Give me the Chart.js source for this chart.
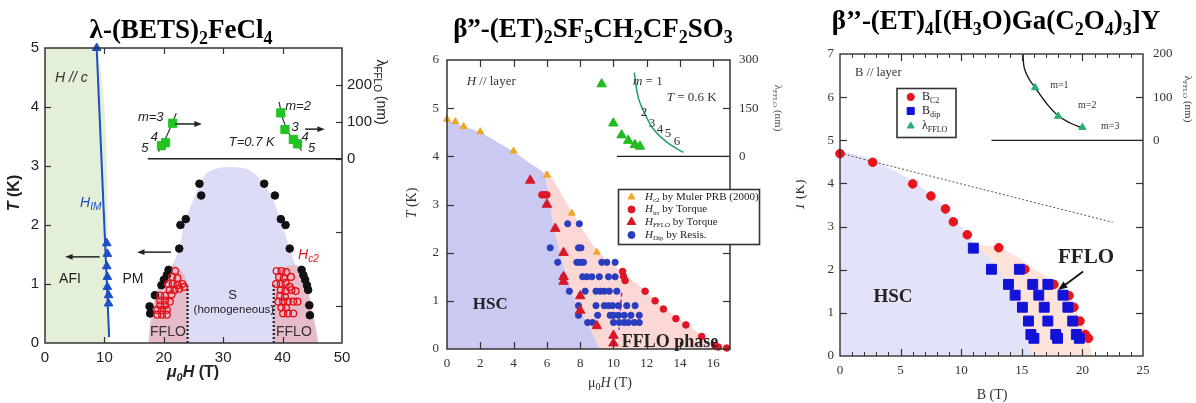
<!DOCTYPE html>
<html>
<head>
<meta charset="utf-8">
<script src="https://cdn.jsdelivr.net/npm/chart.js@4.4.0/dist/chart.umd.min.js"></script>
<style>
body { margin: 0; background: #fff; width: 1196px; height: 403px; overflow: hidden; position: relative; }
canvas { position: absolute; top: 0; }
#c1 { left: 0; }
#c2 { left: 400px; }
#c3 { left: 796px; }
</style>
</head>
<body>
<canvas id="c1" width="400" height="403"></canvas>
<canvas id="c2" width="400" height="403"></canvas>
<canvas id="c3" width="400" height="403"></canvas>
<script>
// ---------- panel 1 : lambda-(BETS)2FeCl4  (x: mu0H in T, y: T in K, y2: lambda in nm) ----------
const betsHIM = [[8.7, 5.0], [10.4, 1.69], [10.5, 1.51], [10.4, 1.3], [10.5, 1.12], [10.5, 0.95], [10.7, 0.81], [10.7, 0.67]];
const betsHIMLine = [[8.7, 5.0], [10.8, 0.1]];
const betsHc2 = [[26.0, 2.7], [26.3, 2.5], [23.7, 2.1], [22.8, 2.0], [22.6, 1.6], [20.8, 1.24], [20.5, 1.15], [20.0, 1.07], [19.6, 0.98], [18.5, 0.81], [17.6, 0.62], [17.7, 0.5],
  [36.9, 2.7], [38.7, 2.5], [39.7, 2.1], [40.5, 2.0], [41.2, 1.6], [43.2, 1.24], [43.5, 1.15], [43.8, 1.07], [44.1, 0.98], [44.3, 0.9], [44.5, 0.64], [44.6, 0.47]];
const betsFFLOpts = [[21.9, 1.22], [21.4, 1.12], [22.3, 1.1], [20.7, 1.0], [21.5, 1.0], [22.3, 0.98], [23.1, 1.0], [21.0, 0.9], [21.8, 0.9], [22.6, 0.92], [23.4, 0.95],
  [19.4, 0.8], [20.2, 0.8], [21.3, 0.82], [19.4, 0.72], [20.2, 0.72], [21.0, 0.7], [19.4, 0.64], [20.2, 0.64], [18.9, 0.56], [19.7, 0.56], [20.5, 0.56], [18.9, 0.48], [19.7, 0.48], [20.5, 0.48],
  [39.0, 1.22], [39.8, 1.22], [40.6, 1.2], [39.4, 1.12], [40.2, 1.1], [41.4, 1.12], [38.9, 1.0], [39.7, 1.0], [40.5, 1.02], [41.2, 0.95], [39.7, 0.9], [40.5, 0.88], [41.5, 0.9], [42.2, 0.88],
  [39.6, 0.8], [40.4, 0.78], [39.3, 0.7], [40.1, 0.7], [40.9, 0.7], [41.8, 0.7], [42.5, 0.7], [39.8, 0.6], [40.6, 0.6], [40.1, 0.5], [40.9, 0.5], [41.8, 0.5]];
const betsLam = [[21.5, 96], [20.3, 43], [19.6, 35], [39.7, 124], [40.4, 79], [41.8, 52], [42.5, 40]];
const betsFitL = [[19.1, 19], [20.0, 45], [21.0, 80], [22.1, 123]];
const betsFitR = [[39.4, 154], [40.0, 110], [41.0, 70], [42.0, 45], [43.2, 22]];
const betsAFI = [[0, 5], [8.7, 5], [10.7, 0]];
const betsDome = [[17.4, 0], [17.8, 0.5], [18.6, 0.8], [20.0, 1.1], [21.3, 1.3], [22.6, 1.6], [23.5, 2.05], [25.3, 2.5], [27, 2.85], [29, 2.96], [32, 2.98], [34.5, 2.93],
  [36.5, 2.75], [38.3, 2.45], [39.8, 2.05], [41.2, 1.6], [42.8, 1.15], [44.6, 0.65], [46, 0]];
const betsFFLOL = [[17.4, 0], [18.6, 0.8], [20.2, 1.2], [21.8, 1.32], [23.3, 1.18], [24, 1.0], [24, 0]];
const betsFFLOR = [[38.5, 0], [38.5, 1.0], [39.3, 1.22], [40.5, 1.3], [42.3, 1.32], [43.4, 1.2], [44.6, 0.75], [45.6, 0.25], [46, 0]];
const betsDotL = [[24, 0], [24, 0.97]];
const betsDotR = [[38.5, 0], [38.5, 1.0]];
const betsBase = [[17.3, 0], [50, 0]];
const betsXTicks = [0, 10, 20, 30, 40, 50];
const betsYTicks = [0, 1, 2, 3, 4, 5];
const betsLamTicks = [0, 100, 200];

// ---------- panel 2 : beta''-(ET)2SF5CH2CF2SO3 ----------
const etHc2 = [[0, 4.77], [0.5, 4.72], [1, 4.62], [2, 4.51], [4, 4.11], [6, 3.61], [7.5, 2.82], [9, 2.01]];
const etHirr = [[5.7, 3.2], [5.85, 3.2], [6.0, 3.2], [10.55, 1.61], [10.6, 1.51], [10.7, 1.42], [11.9, 1.2], [12.5, 1.0], [13.0, 0.83], [13.75, 0.63], [14.35, 0.5],
  [15.3, 0.26], [16.1, 0.07], [16.3, 0.04], [16.8, 0.02]];
const etHfflo = [[5, 3.5], [6, 3.0], [6.5, 2.5], [7, 2.0], [7, 1.5], [7, 1.4], [8, 1.1], [8, 0.8], [9, 0.48], [10, 0.28], [10, 0.12]];
const etHdip = [[7.25, 2.6], [7.95, 2.6], [6.2, 2.1], [7.9, 2.1], [8.05, 2.1],
  [6.65, 1.8], [7.8, 1.8], [8.0, 1.8], [8.2, 1.8], [9.3, 1.8], [9.6, 1.8], [10.1, 1.8],
  [7.0, 1.5], [8.15, 1.5], [8.4, 1.5], [8.7, 1.5], [9.15, 1.5], [9.7, 1.5], [10.1, 1.5],
  [7.35, 1.2], [8.3, 1.2], [8.95, 1.2], [9.2, 1.2], [9.45, 1.2], [9.75, 1.2], [10.2, 1.2],
  [7.9, 0.9], [8.95, 0.9], [9.45, 0.9], [9.7, 0.9], [9.95, 0.9], [10.3, 0.9], [10.8, 0.9], [11.3, 0.9],
  [7.9, 0.7], [9.05, 0.7], [9.8, 0.7], [10.0, 0.7], [10.3, 0.7], [10.65, 0.7], [11.05, 0.7], [11.55, 0.7],
  [8.45, 0.55], [8.75, 0.55], [10.0, 0.55], [10.35, 0.55], [10.65, 0.55], [10.9, 0.55], [11.25, 0.55], [11.55, 0.55]];
const etLam = [[9.29, 225], [9.99, 103], [10.49, 66], [10.89, 49], [11.29, 36], [11.59, 31]];
const etLamFit = [[11.25, 261], [11.49, 183], [11.89, 132], [12.39, 85], [13.2, 44], [14.2, 12]];
const etHSC = [[0, 4.75], [1, 4.62], [2, 4.5], [3, 4.3], [4, 4.1], [5, 3.85], [5.8, 3.65], [6.18, 3.0], [6.42, 2.5], [6.78, 2.0], [7.18, 1.5], [7.68, 1.0], [8.48, 0.5], [9.18, 0]];
const etFFLO = [[5.8, 3.7], [6.1, 3.68], [7.5, 2.85], [9, 2.05], [10.5, 1.6], [11.9, 1.22], [13, 0.86], [14.4, 0.52], [15.3, 0.28], [16.2, 0.07], [17, 0]];
const etDash = [[10.49, 1.17], [10.33, 0.4]];
const etBase = [[10.2, 0], [17, 0]];
const etXTicks = [0, 2, 4, 6, 8, 10, 12, 14, 16];
const etYTicks = [0, 1, 2, 3, 4, 5, 6];
const etLamTicks = [0, 150, 300];

// ---------- panel 3 : beta''-(ET)4[(H3O)Ga(C2O4)3]Y ----------
const gaBc2 = [[0, 4.69], [2.7, 4.49], [6, 3.99], [7.5, 3.71], [8.7, 3.41], [9.35, 3.11], [10.5, 2.81], [13.1, 2.51], [15.25, 2.01], [17.65, 1.66], [18.9, 1.4],
  [19.3, 1.13], [19.8, 0.81], [20.25, 0.5], [20.5, 0.41]];
const gaBdip = [[11, 2.5], [12.5, 2.01], [14.8, 2.01], [13.9, 1.66], [15.9, 1.66], [17.15, 1.66], [14.45, 1.41], [16.4, 1.41], [18.4, 1.41], [15.05, 1.13], [16.85, 1.13],
  [18.8, 1.13], [15.55, 0.81], [17.15, 0.81], [19.2, 0.81], [15.75, 0.5], [16.0, 0.41], [17.8, 0.5], [17.95, 0.41], [19.5, 0.5], [19.75, 0.41]];
const gaLam = [[16.1, 122], [18.0, 56], [20.0, 30]];
const gaLamFit = [[15.1, 200], [15.2, 168], [15.6, 142], [16.1, 122], [17.0, 87], [18.0, 57], [19.0, 40], [20.1, 27]];
const gaHSC = [[0, 4.75], [2.7, 4.55], [6, 4.05], [7.5, 3.75], [8.7, 3.45], [9.4, 3.15], [10.5, 2.85], [11, 2.6], [12.4, 2.25], [13.5, 1.85], [14.3, 1.45], [14.84, 1.0], [15.4, 0.55], [15.95, 0]];
const gaFFLO = [[10.9, 2.55], [12, 2.56], [13, 2.52], [14.5, 2.32], [16, 2.02], [17.5, 1.76], [18.5, 1.48], [19.3, 1.12], [19.9, 0.8], [20.4, 0.5], [20.8, 0]];
const gaPauli = [[0, 4.7], [22.5, 3.1]];
const gaBase = [[12.5, 0], [25, 0]];
const gaXTicks = [0, 5, 10, 15, 20, 25];
const gaYTicks = [0, 1, 2, 3, 4, 5, 6, 7];
const gaLamTicks = [0, 100, 200];

// ---------- helpers ----------
function xy(arr) { return arr.map(function (p) { return {x: p[0], y: p[1]}; }); }
function range(a, b, s) { const o = []; for (let v = a; v <= b + 1e-9; v += s) o.push(+v.toFixed(4)); return o; }

// tiny markup: <i>..</i> italic, <sub>..</sub> subscript
function parts(str) {
  const out = []; let it = false, sub = false;
  str.split(/(<\/?(?:i|sub)>)/).forEach(function (s) {
    if (s === '<i>') it = true; else if (s === '</i>') it = false;
    else if (s === '<sub>') sub = true; else if (s === '</sub>') sub = false;
    else if (s) out.push({t: s, it: it, sub: sub});
  });
  return out;
}
function rich(ctx, str, x, y, o) {
  const ps = parts(str);
  const fnt = function (p) {
    return ((p.it || o.italic) ? 'italic ' : '') + (o.weight || 'normal') + ' ' + (p.sub ? Math.round(o.size * 0.68) : o.size) + 'px ' + o.family;
  };
  let w = 0;
  ps.forEach(function (p) { ctx.font = fnt(p); p.w = ctx.measureText(p.t).width; w += p.w; });
  let cx = o.align === 'left' ? x : (o.align === 'right' ? x - w : x - w / 2);
  ctx.fillStyle = o.color || '#000';
  ctx.textBaseline = 'middle';
  ctx.textAlign = 'left';
  ps.forEach(function (p) {
    ctx.font = fnt(p);
    ctx.fillText(p.t, cx, y + (p.sub ? o.size * 0.32 : 0));
    cx += p.w;
  });
}

function marker(ctx, style, x, y, r, color) {
  ctx.fillStyle = color; ctx.strokeStyle = color; ctx.lineWidth = 1;
  if (Chart.helpers && Chart.helpers.drawPoint) {
    Chart.helpers.drawPoint(ctx, {pointStyle: style, radius: r, rotation: 0, borderWidth: 1}, x, y);
  } else {
    ctx.beginPath(); ctx.arc(x, y, r, 0, Math.PI * 2); ctx.fill();
  }
}

// frame, inward ticks, arrows, texts and legend box
function deco(cfg) {
  return {
    id: 'deco',
    afterDraw: function (chart) {
      const ctx = chart.ctx, ca = chart.chartArea, sc = chart.scales;
      ctx.save();
      (cfg.ticks || []).forEach(function (t) {
        const s = sc[t.axis];
        ctx.strokeStyle = cfg.frameColor; ctx.lineWidth = t.width || 1.2;
        t.values.forEach(function (v) {
          const p = Math.round(s.getPixelForValue(v)) + 0.5;
          ctx.beginPath();
          if (t.axis === 'x') {
            ctx.moveTo(p, ca.bottom); ctx.lineTo(p, ca.bottom - t.len);
            if (t.top) { ctx.moveTo(p, ca.top); ctx.lineTo(p, ca.top + t.len); }
          } else if (t.axis === 'y') {
            ctx.moveTo(ca.left, p); ctx.lineTo(ca.left + t.len, p);
          } else {
            ctx.moveTo(ca.right, p); ctx.lineTo(ca.right - t.len, p);
          }
          ctx.stroke();
        });
      });
      ctx.strokeStyle = cfg.frameColor; ctx.lineWidth = cfg.frameWidth;
      ctx.strokeRect(ca.left, ca.top, ca.right - ca.left, ca.bottom - ca.top);

      (cfg.arrows || []).forEach(function (a) {
        const ys = sc[a.axis];
        const x1 = sc.x.getPixelForValue(a.from[0]), y1 = ys.getPixelForValue(a.from[1]);
        const x2 = sc.x.getPixelForValue(a.to[0]), y2 = ys.getPixelForValue(a.to[1]);
        const ang = Math.atan2(y2 - y1, x2 - x1), h = a.head || 8;
        ctx.strokeStyle = a.color; ctx.fillStyle = a.color; ctx.lineWidth = a.width || 1.5;
        ctx.beginPath(); ctx.moveTo(x1, y1);
        ctx.lineTo(x2 - Math.cos(ang) * h * 0.8, y2 - Math.sin(ang) * h * 0.8); ctx.stroke();
        ctx.beginPath(); ctx.moveTo(x2, y2);
        ctx.lineTo(x2 - h * Math.cos(ang - 0.38), y2 - h * Math.sin(ang - 0.38));
        ctx.lineTo(x2 - h * Math.cos(ang + 0.38), y2 - h * Math.sin(ang + 0.38));
        ctx.closePath(); ctx.fill();
      });

      (cfg.texts || []).forEach(function (t) {
        let x = t.x, y = t.y;
        if (t.axis) { x = sc.x.getPixelForValue(t.x); y = sc[t.axis].getPixelForValue(t.y); }
        ctx.save();
        ctx.translate(x, y);
        if (t.rot) ctx.rotate(t.rot * Math.PI / 180);
        rich(ctx, t.s, 0, 0, Object.assign({}, cfg.font, t));
        ctx.restore();
      });

      const lg = cfg.legend;
      if (lg) {
        ctx.fillStyle = '#fff';
        ctx.fillRect(lg.box[0], lg.box[1], lg.box[2], lg.box[3]);
        ctx.strokeStyle = '#333'; ctx.lineWidth = 1.6;
        ctx.strokeRect(lg.box[0], lg.box[1], lg.box[2], lg.box[3]);
        lg.rows.forEach(function (r) {
          marker(ctx, r.style, lg.mx, r.y, r.r, r.color);
          rich(ctx, r.s, lg.tx, r.y, Object.assign({}, cfg.font, {size: lg.size, align: 'left', color: '#222'}));
        });
      }
      ctx.restore();
    }
  };
}

function scale(min, max, labels, font, color, pad, fit, extra) {
  return Object.assign({
    type: 'linear', min: min, max: max,
    grid: {display: false, drawTicks: false},
    border: {display: false},
    afterBuildTicks: function (s) { s.ticks = labels.map(function (v) { return {value: v}; }); },
    afterFit: fit,
    ticks: {font: font, color: color, padding: pad, maxRotation: 0, autoSkip: false}
  }, extra || {});
}

function region(data, color, axis) {
  return {type: 'line', data: xy(data), yAxisID: axis || 'y', fill: 'origin', backgroundColor: color,
    borderWidth: 0, pointRadius: 0, tension: 0.3, order: 20};
}
function path(data, color, width, dash, axis, tension) {
  return {type: 'line', data: xy(data), yAxisID: axis || 'y', fill: false, borderColor: color, borderWidth: width,
    borderDash: dash || [], pointRadius: 0, tension: tension || 0, order: 8};
}
function pts(data, style, r, fillC, lineC, bw, axis, order) {
  return {type: 'scatter', data: xy(data), yAxisID: axis || 'y', pointStyle: style, pointRadius: r,
    backgroundColor: fillC, borderColor: lineC, borderWidth: bw, clip: false, order: order || 2};
}

function baseOptions(padTop, scales) {
  return {
    responsive: false, animation: false, events: [],
    layout: {padding: {top: padTop, left: 0, right: 0, bottom: 0}},
    plugins: {legend: {display: false}, tooltip: {enabled: false}},
    scales: scales
  };
}

// ---------- chart 1 ----------
const sans = 'Liberation Sans, Arial, sans-serif';
const serif = 'Liberation Serif, Times New Roman, serif';
const f1 = {family: sans, size: 15};

new Chart(document.getElementById('c1'), {
  type: 'scatter',
  data: {datasets: [
    region(betsAFI, '#e3efd6'),
    Object.assign(region(betsDome, '#dcdcf6'), {order: 19}),
    Object.assign(region(betsFFLOL, '#e6bccb'), {order: 18, tension: 0.2}),
    Object.assign(region(betsFFLOR, '#e6bccb'), {order: 18, tension: 0.2}),
    path(betsDotL, '#222', 2.2, [2, 2]),
    path(betsDotR, '#222', 2.2, [2, 2]),
    path(betsHIMLine, '#1d4fc4', 2),
    path(betsBase, '#222', 1.5, [], 'y2'),
    path(betsFitL, '#333', 1.2, [], 'y2', 0.4),
    path(betsFitR, '#333', 1.2, [], 'y2', 0.4),
    pts(betsHIM, 'triangle', 5, '#1d4fc4', '#1d4fc4', 1, 'y', 2),
    pts(betsHc2, 'circle', 3.8, '#111', '#111', 1, 'y', 3),
    pts(betsFFLOpts, 'circle', 3.4, 'rgba(0,0,0,0)', '#e3141c', 1.4, 'y', 1),
    pts(betsLam, 'rect', 5.8, '#22c422', '#22c422', 1, 'y2', 1)
  ]},
  options: baseOptions(48, {
    x: scale(0, 50, betsXTicks, f1, '#222', 6, function (s) { s.height = 60; }),
    y: scale(0, 5, betsYTicks, f1, '#222', 6, function (s) { s.width = 45; }),
    y2: scale(-500, 300, betsLamTicks, f1, '#222', 5, function (s) { s.width = 58; }, {position: 'right'})
  }),
  plugins: [deco({
    frameColor: '#333', frameWidth: 1.5,
    font: {family: sans, size: 13, color: '#222'},
    ticks: [
      {axis: 'x', values: [10, 20, 30, 40], len: 6, top: true},
      {axis: 'y', values: [1, 2, 3, 4], len: 6},
      {axis: 'y2', values: [-400, -200, 0, 100, 200], len: 6}
    ],
    arrows: [
      {axis: 'y', from: [21.2, 1.54], to: [15.5, 1.54], color: '#222'},
      {axis: 'y', from: [9.2, 1.46], to: [3.4, 1.46], color: '#222'},
      {axis: 'y2', from: [21.9, 94], to: [26.4, 94], color: '#222'},
      {axis: 'y2', from: [43.8, 80], to: [47.1, 80], color: '#222'}
    ],
    texts: [
      {s: 'λ-(BETS)<sub>2</sub>FeCl<sub>4</sub>', x: 181, y: 31, size: 27, family: serif, weight: 'bold', color: '#000'},
      {s: '<i>T</i> (K)', x: 15, y: 193, rot: -90, size: 16, weight: 'bold'},
      {s: '<i>μ<sub>0</sub>H</i> (T)', x: 193, y: 373, size: 16, weight: 'bold'},
      {s: 'λ<sub>FFLO</sub> (nm)', x: 381, y: 92, rot: 90, size: 14},
      {s: 'H // c', axis: 'y', x: 1.7, y: 4.49, align: 'left', italic: true, size: 14, color: '#333'},
      {s: '<i>H</i><sub><i>IM</i></sub>', axis: 'y', x: 5.9, y: 2.37, align: 'left', size: 14, color: '#1d4fc4'},
      {s: '<i>H</i><sub><i>c2</i></sub>', axis: 'y', x: 42.6, y: 1.49, align: 'left', size: 14, color: '#e3141c'},
      {s: 'AFI', axis: 'y', x: 4.2, y: 1.08, size: 14},
      {s: 'PM', axis: 'y', x: 14.8, y: 1.08, size: 14},
      {s: 'S', axis: 'y', x: 31.6, y: 0.8, size: 13},
      {s: '(homogeneous)', axis: 'y', x: 31.8, y: 0.56, size: 11.5},
      {s: 'FFLO', axis: 'y', x: 20.7, y: 0.19, size: 14, color: '#333'},
      {s: 'FFLO', axis: 'y', x: 41.9, y: 0.19, size: 14, color: '#333'},
      {s: 'm=3', axis: 'y2', x: 17.8, y: 113, italic: true},
      {s: '4', axis: 'y2', x: 18.4, y: 58, italic: true},
      {s: '5', axis: 'y2', x: 16.8, y: 29, italic: true},
      {s: 'T=0.7 K', axis: 'y2', x: 34.8, y: 45, italic: true},
      {s: 'm=2', axis: 'y2', x: 42.6, y: 142, italic: true},
      {s: '3', axis: 'y2', x: 42.1, y: 86, italic: true},
      {s: '4', axis: 'y2', x: 43.8, y: 58, italic: true},
      {s: '5', axis: 'y2', x: 44.9, y: 29, italic: true}
    ]
  })]
});

// ---------- chart 2 ----------
const f2 = {family: serif, size: 13};
new Chart(document.getElementById('c2'), {
  type: 'scatter',
  data: {datasets: [
    Object.assign(region(etFFLO, '#fbd8d6'), {order: 21, tension: 0.15}),
    Object.assign(region(etHSC, '#c9c9f2'), {order: 20, tension: 0.2}),
    path(etDash, '#8a2bd0', 1.5, [4, 3]),
    path(etBase, '#222', 1.2, [], 'y2'),
    path(etLamFit, '#1aa060', 1.5, [], 'y2', 0.4),
    pts(etLam, 'triangle', 5.5, '#22bb22', '#22bb22', 1, 'y2', 2),
    pts(etHdip, 'circle', 3.1, '#2a3dbf', '#2a3dbf', 1, 'y', 3),
    pts(etHirr, 'circle', 3.3, '#e01525', '#e01525', 1, 'y', 2),
    pts(etHfflo, 'triangle', 5.5, '#d8182a', '#d8182a', 1, 'y', 1),
    pts(etHc2, 'triangle', 4, '#f0a626', '#f0a626', 1, 'y', 1)
  ]},
  options: baseOptions(60, {
    x: scale(0, 17, etXTicks, f2, '#333', 7, function (s) { s.height = 54; }),
    y: scale(0, 6, etYTicks, f2, '#333', 8, function (s) { s.width = 47; }),
    y2: scale(-600, 300, etLamTicks, f2, '#333', 9, function (s) { s.width = 70; }, {position: 'right'})
  }),
  plugins: [deco({
    frameColor: '#333', frameWidth: 1.5,
    font: {family: serif, size: 13, color: '#333'},
    ticks: [
      {axis: 'x', values: [2, 4, 6, 8, 10, 12, 14, 16], len: 7, top: true},
      {axis: 'y', values: [1, 2, 3, 4, 5], len: 7},
      {axis: 'y2', values: [-450, -300, -150, 0, 150], len: 7}
    ],
    texts: [
      {s: 'β”-(ET)<sub>2</sub>SF<sub>5</sub>CH<sub>2</sub>CF<sub>2</sub>SO<sub>3</sub>', x: 193, y: 30, size: 27, weight: 'bold', color: '#000'},
      {s: '<i>T</i> (K)', x: 12, y: 203, rot: -90, size: 14},
      {s: 'μ<sub>0</sub><i>H</i> (T)', x: 210, y: 383, size: 14},
      {s: 'λ<sub>FFLO</sub> (nm)', x: 378, y: 108, rot: 90, size: 11, color: '#555'},
      {s: '<i>H</i> // layer', axis: 'y', x: 1.18, y: 5.55, align: 'left', size: 13},
      {s: 'HSC', axis: 'y', x: 2.6, y: 0.92, size: 17, weight: 'bold', color: '#222'},
      {s: 'FFLO phase', axis: 'y', x: 13.4, y: 0.14, size: 18, weight: 'bold', color: '#222'},
      {s: '<i>m</i> = 1', axis: 'y2', x: 11.17, y: 232, align: 'left', size: 13},
      {s: '<i>T</i> = 0.6 K', axis: 'y2', x: 13.2, y: 182, align: 'left', size: 13},
      {s: '2', axis: 'y2', x: 11.83, y: 136, size: 13},
      {s: '3', axis: 'y2', x: 12.31, y: 102, size: 13},
      {s: '4', axis: 'y2', x: 12.79, y: 83, size: 13},
      {s: '5', axis: 'y2', x: 13.27, y: 70, size: 13},
      {s: '6', axis: 'y2', x: 13.82, y: 46, size: 13}
    ],
    legend: {
      box: [218.5, 189.5, 141, 55], mx: 231.5, tx: 245, size: 11,
      rows: [
        {y: 197, style: 'triangle', r: 4, color: '#f0a626', s: '<i>H</i><sub>c2</sub> by Muler PRB (2000)'},
        {y: 209.5, style: 'circle', r: 3.5, color: '#e01525', s: '<i>H</i><sub>irr</sub> by Torque'},
        {y: 222, style: 'triangle', r: 5, color: '#d8182a', s: '<i>H</i><sub>FFLO</sub> by Torque'},
        {y: 235, style: 'circle', r: 3.5, color: '#2a3dbf', s: '<i>H</i><sub>Dip</sub> by Resis.'}
      ]
    }
  })]
});

// ---------- chart 3 ----------
const f3 = {family: serif, size: 13};
new Chart(document.getElementById('c3'), {
  type: 'scatter',
  data: {datasets: [
    Object.assign(region(gaFFLO, '#fde3da'), {order: 21}),
    Object.assign(region(gaHSC, '#e2e2f8'), {order: 20}),
    path(gaPauli, '#555', 1, [2, 2]),
    path(gaBase, '#222', 1.2, [], 'y2'),
    path(gaLamFit, '#111', 1.3, [], 'y2', 0.4),
    pts(gaLam, 'triangle', 4.2, '#25b070', '#25b070', 1, 'y2', 2),
    pts(gaBc2, 'circle', 4.3, '#e8141c', '#e8141c', 1, 'y', 3),
    pts(gaBdip, 'rect', 7, '#1212d8', '#1212d8', 1, 'y', 1)
  ]},
  options: baseOptions(54, {
    x: scale(0, 25, gaXTicks, f3, '#333', 7, function (s) { s.height = 47; }),
    y: scale(0, 7, gaYTicks, f3, '#333', 6, function (s) { s.width = 44; }),
    y2: scale(-500, 200, gaLamTicks, f3, '#333', 10, function (s) { s.width = 53; }, {position: 'right'})
  }),
  plugins: [deco({
    frameColor: '#333', frameWidth: 1.4,
    font: {family: serif, size: 13, color: '#333'},
    ticks: [
      {axis: 'x', values: range(1, 24, 1), len: 4, top: true, width: 1},
      {axis: 'x', values: [5, 10, 15, 20], len: 7, top: true},
      {axis: 'y', values: [1, 2, 3, 4, 5, 6], len: 7},
      {axis: 'y2', values: [-400, -300, -200, -100, 0, 100], len: 7}
    ],
    arrows: [
      {axis: 'y', from: [20.06, 1.96], to: [18.0, 1.53], color: '#111', width: 1.8, head: 10}
    ],
    texts: [
      {s: 'β’’-(ET)<sub>4</sub>[(H<sub>3</sub>O)Ga(C<sub>2</sub>O<sub>4</sub>)<sub>3</sub>]Y', x: 200, y: 22, size: 27, weight: 'bold', color: '#000'},
      {s: '<i>T</i> (K)', x: 4, y: 195, rot: -90, size: 14},
      {s: 'B (T)', x: 196, y: 395, size: 14},
      {s: 'λ<sub>FFLO</sub> (nm)', x: 392, y: 99, rot: 90, size: 11, color: '#444'},
      {s: 'B // layer', axis: 'y', x: 1.24, y: 6.57, align: 'left', size: 12.5},
      {s: 'HSC', axis: 'y', x: 4.37, y: 1.37, size: 19, weight: 'bold', color: '#222'},
      {s: 'FFLO', axis: 'y', x: 20.3, y: 2.27, size: 21, weight: 'bold', color: '#222'},
      {s: 'm=1', axis: 'y2', x: 18.1, y: 127, size: 10},
      {s: 'm=2', axis: 'y2', x: 20.4, y: 80, size: 10},
      {s: 'm=3', axis: 'y2', x: 22.3, y: 32, size: 10}
    ],
    legend: {
      box: [101, 88.5, 59, 49], mx: 114.7, tx: 126, size: 12,
      rows: [
        {y: 97, style: 'circle', r: 3.6, color: '#e8141c', s: 'B<sub>C2</sub>'},
        {y: 111, style: 'rect', r: 5, color: '#1212d8', s: 'B<sub>dip</sub>'},
        {y: 126, style: 'triangle', r: 4, color: '#25b070', s: 'λ<sub>FFLO</sub>'}
      ]
    }
  })]
});
</script>
</body>
</html>
